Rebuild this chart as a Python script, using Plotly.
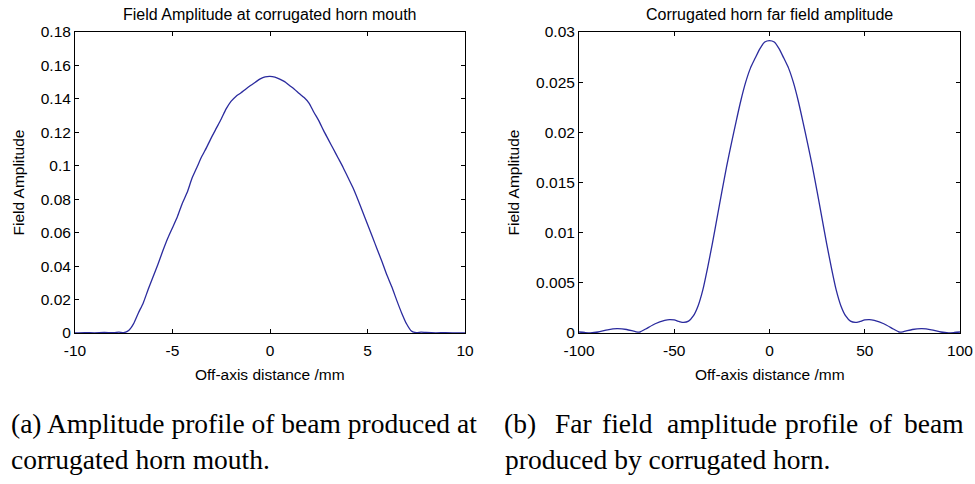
import plotly.graph_objects as go

# ---- data: left panel (field at horn mouth) ----
mouth_x = [-10, -9.5, -9, -8.5, -8, -7.75, -7.5, -7.25, -7.0, -6.75, -6.5, -6.25, -6.0,
           -5.75, -5.5, -5.25, -5.0, -4.75, -4.5, -4.25, -4.0, -3.75, -3.5, -3.25, -3.0,
           -2.75, -2.5, -2.25, -2.0, -1.75, -1.5, -1.25, -1.0, -0.75, -0.5, -0.25, 0,
           0.25, 0.5, 0.75, 1.0, 1.25, 1.5, 1.75, 2.0, 2.25, 2.5, 2.75, 3.0, 3.25, 3.5,
           3.75, 4.0, 4.25, 4.5, 4.75, 5.0, 5.25, 5.5, 5.75, 6.0, 6.25, 6.5, 6.75, 7.0,
           7.25, 7.5, 7.75, 8.0, 8.5, 9.0, 9.5, 10]
mouth_amp = [0.0, 0.0002, 0.0001, 0.0003, 0.0002, 0.0005, 0.0002, 0.0015, 0.0055, 0.012,
             0.018, 0.026, 0.0335, 0.041, 0.049, 0.0565, 0.063, 0.0695, 0.0775, 0.084,
             0.0925, 0.099, 0.1055, 0.111, 0.117, 0.1225, 0.128, 0.134, 0.1385, 0.1415,
             0.1435, 0.1458, 0.148, 0.150, 0.152, 0.1532, 0.1535, 0.153, 0.1518, 0.1503,
             0.148, 0.1458, 0.1432, 0.1408, 0.1375, 0.132, 0.127, 0.121, 0.1155, 0.110,
             0.1045, 0.099, 0.093, 0.087, 0.080, 0.0725, 0.065, 0.0575, 0.050, 0.0425,
             0.0345, 0.0275, 0.0195, 0.012, 0.0055, 0.0012, 0.0002, 0.0005, 0.0003,
             0.0001, 0.0002, 0.0001, 0.0]

# ---- data: right panel (far field) ----
far_x = [-100, -97, -94, -90, -85, -80, -75, -70, -68, -65, -60, -55, -52.5, -50, -47.5,
         -45, -42.5, -40, -37.5, -35, -32.5, -30, -27.5, -25, -22.5, -20, -17.5, -15,
         -12.5, -10, -7.5, -5, -2.5, 0, 2.5, 5, 7.5, 10, 12.5, 15, 17.5, 20, 22.5, 25,
         27.5, 30, 32.5, 35, 37.5, 40, 42.5, 45, 47.5, 50, 52.5, 55, 60, 65, 68, 70, 75,
         80, 85, 90, 94, 97, 100]
far_amp = [0.0001, 0.00005, 0.00002, 0.0001, 0.00032, 0.00043, 0.00035, 0.00012, 0.0001,
           0.0004, 0.00092, 0.00125, 0.00134, 0.0013, 0.00115, 0.00105, 0.00118, 0.0017,
           0.0027, 0.0043, 0.0065, 0.0089, 0.0115, 0.0141, 0.0166, 0.0189, 0.0211, 0.0232,
           0.0250, 0.0264, 0.0274, 0.02835, 0.0290, 0.02915, 0.0290, 0.02835, 0.0274,
           0.0264, 0.0250, 0.0232, 0.0211, 0.0189, 0.0166, 0.0141, 0.0115, 0.0089, 0.0065,
           0.0043, 0.0027, 0.0017, 0.00118, 0.00105, 0.00115, 0.0013, 0.00134, 0.00125,
           0.00092, 0.0004, 0.0001, 0.00012, 0.00035, 0.00043, 0.00032, 0.0001, 0.00002,
           0.00005, 0.0001]

# ---- tick labels ----
mouth_xticks = [-10, -5, 0, 5, 10]
mouth_xtext = ["-10", "-5", "0", "5", "10"]
mouth_yticks = [0, 0.02, 0.04, 0.06, 0.08, 0.10, 0.12, 0.14, 0.16, 0.18]
mouth_ytext = ["0", "0.02", "0.04", "0.06", "0.08", "0.1", "0.12", "0.14", "0.16", "0.18"]
far_xticks = [-100, -50, 0, 50, 100]
far_xtext = ["-100", "-50", "0", "50", "100"]
far_yticks = [0, 0.005, 0.01, 0.015, 0.02, 0.025, 0.03]
far_ytext = ["0", "0.005", "0.01", "0.015", "0.02", "0.025", "0.03"]

titles = ["Field Amplitude at corrugated horn mouth", "Corrugated horn far field amplitude"]
xlabel = "Off-axis distance /mm"
ylabel = "Field Amplitude"
caption_a = ["(a) Amplitude profile of beam produced at", "corrugated horn mouth."]
caption_b1_words = ["(b)", "Far", "field", "amplitude", "profile", "of", "beam"]
caption_b2 = "produced by corrugated horn."

W, H = 975, 484
LINE = "#2b2b9e"
SANS = "Liberation Sans, Arial, sans-serif"
SERIF = "Liberation Serif, Times New Roman, serif"
FS = 15.5

def px_x(p):
    return p / W

def px_y(p):
    return 1 - p / H

fig = go.Figure()
fig.add_trace(go.Scatter(x=mouth_x, y=mouth_amp, mode="lines", xaxis="x", yaxis="y",
                         line=dict(color=LINE, width=1.3, shape="spline", smoothing=0.6),
                         showlegend=False, hoverinfo="skip"))
fig.add_trace(go.Scatter(x=far_x, y=far_amp, mode="lines", xaxis="x2", yaxis="y2",
                         line=dict(color=LINE, width=1.3, shape="spline", smoothing=0.6),
                         showlegend=False, hoverinfo="skip"))

L1, R1 = 75, 465
L2, R2 = 579, 960
TOP, BOT = 32, 333

axis_common = dict(showline=True, linecolor="black", linewidth=1, mirror="ticks",
                   ticks="inside", ticklen=4, tickcolor="black", tickwidth=1,
                   showgrid=False, zeroline=False, fixedrange=True, automargin=False,
                   tickfont=dict(family=SANS, size=FS, color="black"))

fig.update_layout(
    template="none",
    width=W, height=H,
    margin=dict(l=0, r=0, t=0, b=0, pad=0, autoexpand=False),
    paper_bgcolor="white", plot_bgcolor="white",
    xaxis=dict(domain=[px_x(L1), px_x(R1)], range=[-10, 10], anchor="y",
               tickvals=mouth_xticks, ticktext=mouth_xtext, ticklabelstandoff=3,
               **axis_common),
    yaxis=dict(domain=[px_y(BOT), px_y(TOP)], range=[0, 0.18], anchor="x",
               tickvals=mouth_yticks, ticktext=mouth_ytext, **axis_common),
    xaxis2=dict(domain=[px_x(L2), px_x(R2)], range=[-100, 100], anchor="y2",
                tickvals=far_xticks, ticktext=far_xtext, ticklabelstandoff=3,
                **axis_common),
    yaxis2=dict(domain=[px_y(BOT), px_y(TOP)], range=[0, 0.03], anchor="x2",
                tickvals=far_yticks, ticktext=far_ytext, **axis_common),
)

ann = []
for (l, r, t, ylx) in [(L1, R1, titles[0], 18), (L2, R2, titles[1], 513)]:
    cx = (l + r) / 2
    ann.append(dict(text=t, x=px_x(cx), y=px_y(15), xref="paper", yref="paper",
                    xanchor="center", yanchor="middle", showarrow=False,
                    font=dict(family=SANS, size=16, color="black")))
    ann.append(dict(text=xlabel, x=px_x(cx), y=px_y(374), xref="paper", yref="paper",
                    xanchor="center", yanchor="middle", showarrow=False,
                    font=dict(family=SANS, size=FS, color="black")))
    ann.append(dict(text=ylabel, x=px_x(ylx), y=px_y((TOP + BOT) / 2), xref="paper",
                    yref="paper", xanchor="center", yanchor="middle", textangle=-90,
                    showarrow=False, font=dict(family=SANS, size=FS, color="black")))

CFS = 27.5
LINE1_Y, LINE2_Y = 423, 459
ann.append(dict(text=caption_a[0], x=px_x(9), y=px_y(LINE1_Y), xref="paper", yref="paper",
                xanchor="left", yanchor="middle", showarrow=False,
                font=dict(family=SERIF, size=CFS, color="black")))
ann.append(dict(text=caption_a[1], x=px_x(9), y=px_y(LINE2_Y), xref="paper", yref="paper",
                xanchor="left", yanchor="middle", showarrow=False,
                font=dict(family=SERIF, size=CFS, color="black")))
# justified first line of caption (b): word centres, last word left-aligned
word_pos = [(520, "center"), (573, "center"), (627, "center"), (722, "center"),
            (821, "center"), (881, "center"), (902, "left")]
for w, (wx, anc) in zip(caption_b1_words, word_pos):
    ann.append(dict(text=w, x=px_x(wx), y=px_y(LINE1_Y), xref="paper", yref="paper",
                    xanchor=anc, yanchor="middle", showarrow=False,
                    font=dict(family=SERIF, size=CFS, color="black")))
ann.append(dict(text=caption_b2, x=px_x(503), y=px_y(LINE2_Y), xref="paper", yref="paper",
                xanchor="left", yanchor="middle", showarrow=False,
                font=dict(family=SERIF, size=CFS, color="black")))

fig.update_layout(annotations=ann)
fig.write_html("out.html")
